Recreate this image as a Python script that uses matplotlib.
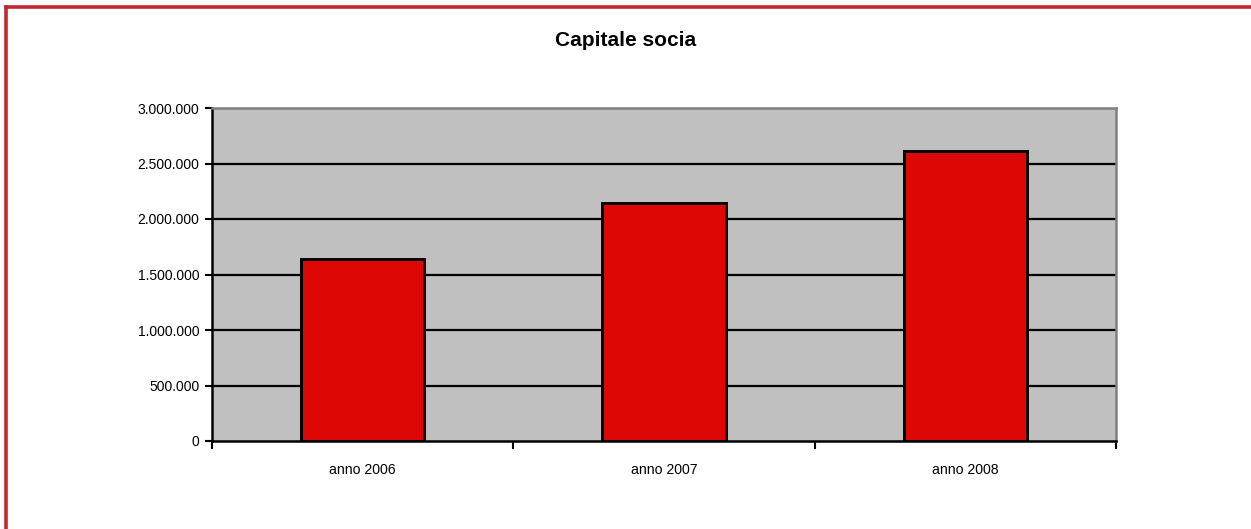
import matplotlib.pyplot as plt
from matplotlib.lines import Line2D
from matplotlib.ticker import FuncFormatter, FixedLocator

plt.rcParams['font.family'] = ['Liberation Sans', 'DejaVu Sans']

# Data
categories = ["anno 2006", "anno 2007", "anno 2008"]
capitale = [1640000, 2140000, 2617000]
yticks = [0, 500000, 1000000, 1500000, 2000000, 2500000, 3000000]

fig = plt.figure(figsize=(12.51, 5.29), dpi=100)
ax = fig.add_axes([212 / 1251, 88 / 529, 904 / 1251, 333 / 529])
ax.set_facecolor("#C0C0C0")

x = list(range(len(categories)))
ax.bar(x, capitale, width=0.41, color="#DD0806", edgecolor="black",
       linewidth=2.1, zorder=3)

ax.set_xlim(-0.5, len(categories) - 0.5)
ax.set_ylim(0, 3000000)
ax.set_yticks(yticks)
ax.yaxis.set_major_formatter(FuncFormatter(lambda v, p: f"{int(v):,}".replace(",", ".")))
for v in yticks[1:]:
    ax.axhline(v, color="black", lw=1.6, zorder=1)

# category labels centered, ticks at boundaries
ax.xaxis.set_major_locator(FixedLocator([-0.5, 0.5, 1.5, 2.5]))
ax.xaxis.set_minor_locator(FixedLocator(x))
ax.xaxis.set_major_formatter(FuncFormatter(lambda v, p: ""))
ax.set_xticklabels(categories, minor=True)
ax.tick_params(axis="x", which="minor", length=0, pad=16, labelsize=10.2)
ax.tick_params(axis="x", which="major", length=6, width=1.5, direction="out")
ax.tick_params(axis="y", length=5, width=1.5, direction="out", pad=4, labelsize=10)

for s in ["left", "bottom"]:
    ax.spines[s].set_color("black")
    ax.spines[s].set_linewidth(1.8)
for s in ["top", "right"]:
    ax.spines[s].set_color("#808080")
    ax.spines[s].set_linewidth(1.8)

fig.text(0.5, 1 - 41 / 529, "Capitale socia", ha="center", va="center",
         fontsize=15, fontweight="bold")

# red frame (top and left only visible)
fig.add_artist(Line2D([6 / 1251, 1], [1 - 7 / 529, 1 - 7 / 529],
                      transform=fig.transFigure, color="#C0282D", lw=2.6))
fig.add_artist(Line2D([6 / 1251, 6 / 1251], [0, 1 - 7 / 529],
                      transform=fig.transFigure, color="#C0282D", lw=2.6))

fig.savefig("out.png", dpi=100)
